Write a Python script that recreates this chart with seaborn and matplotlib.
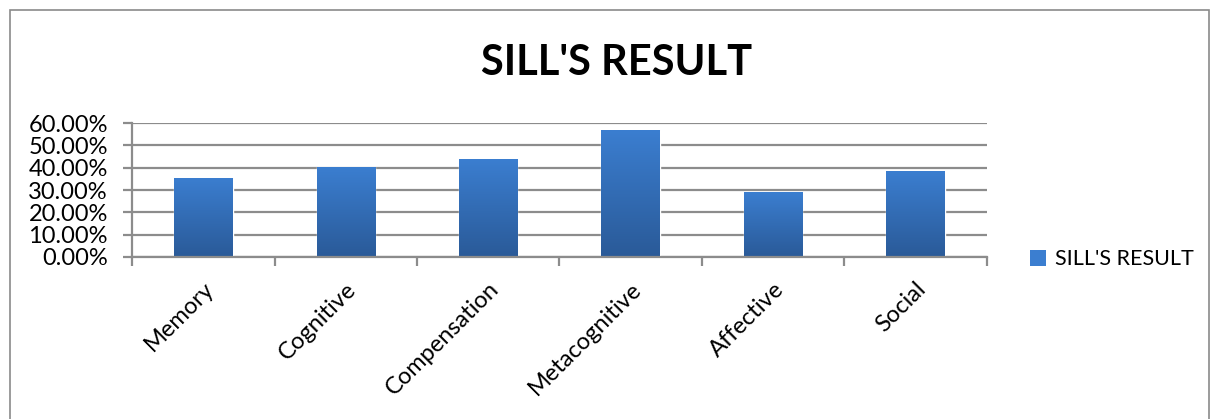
import matplotlib
matplotlib.use("Agg")
import matplotlib.pyplot as plt
import matplotlib.patches as mpatches
from matplotlib.colors import LinearSegmentedColormap
from matplotlib.ticker import FixedLocator, PercentFormatter
import numpy as np
import pandas as pd
import seaborn as sns

# data
categories = ["Memory", "Cognitive", "Compensation", "Metacognitive", "Affective", "Social"]
values = [0.355, 0.403, 0.439, 0.569, 0.291, 0.385]
series_name = "SILL'S RESULT"
title = "SILL'S RESULT"
yticks = [0.0, 0.1, 0.2, 0.3, 0.4, 0.5, 0.6]

df = pd.DataFrame({"category": categories, "value": values})

sns.set_style("white")
plt.rcParams["font.family"] = ["Lato", "DejaVu Sans"]
plt.rcParams["text.color"] = "black"

grid_col = "#8c8c8c"
top_col = "#3b7ed0"
bot_col = "#2a5a98"

fig = plt.figure(figsize=(12.12, 4.19), dpi=100)
ax = fig.add_axes([0.109, 0.387, 0.705, 0.319])

sns.barplot(data=df, x="category", y="value", color=top_col, width=0.41, ax=ax)

ax.set_xlim(-0.5, len(categories) - 0.5)
ax.set_ylim(0, 0.6)
ax.yaxis.set_major_locator(FixedLocator(yticks))
ax.yaxis.set_major_formatter(PercentFormatter(1.0, decimals=2))
ax.grid(axis="y", color=grid_col, lw=1.6)
ax.set_axisbelow(True)
for s in ["top", "right"]:
    ax.spines[s].set_visible(False)
for s in ["left", "bottom"]:
    ax.spines[s].set_color(grid_col)
    ax.spines[s].set_linewidth(1.6)

ax.tick_params(axis="y", which="major", left=True, length=6.5, width=1.6,
               color=grid_col, labelsize=17, pad=11, labelcolor="black")
ax.set_xticks(range(len(categories)))
ax.set_xticklabels(categories, rotation=45, ha="right", rotation_mode="anchor",
                   fontsize=17, color="black")
ax.tick_params(axis="x", which="major", bottom=False, pad=12)
ax.set_xticks(np.arange(-0.5, len(categories)), minor=True)
ax.tick_params(axis="x", which="minor", bottom=True, length=6.5, width=1.6,
               color=grid_col)
ax.set_xlabel("")
ax.set_ylabel("")

# vertical gradient fill on each bar
cmap = LinearSegmentedColormap.from_list("bar", [bot_col, top_col])
grad = np.linspace(0, 1, 256).reshape(-1, 1)
for p in ax.patches:
    x0, y0 = p.get_x(), p.get_y()
    w, h = p.get_width(), p.get_height()
    im = ax.imshow(grad, cmap=cmap, origin="lower", aspect="auto",
                   extent=[x0, x0 + w, y0, y0 + h], zorder=p.get_zorder() + 0.1)
    im.set_clip_path(p)
ax.set_xlim(-0.5, len(categories) - 0.5)
ax.set_ylim(0, 0.6)

fig.text(0.509, 0.85, title, ha="center", va="center", fontsize=30,
         fontweight="bold", color="black")

handle = mpatches.Patch(facecolor=top_col, edgecolor="none", label=series_name)
fig.legend(handles=[handle], loc="center left", bbox_to_anchor=(0.834, 0.381),
           frameon=False, fontsize=15.5, handlelength=0.75, handleheight=0.75,
           handletextpad=0.4)

# chart frame
fig.patches.append(mpatches.Rectangle((10 / 1212, -0.05), 1199 / 1212, 1.026,
                                      transform=fig.transFigure, fill=False,
                                      edgecolor="#8a8a8a", lw=1.2))

fig.savefig("out.png", dpi=100)
